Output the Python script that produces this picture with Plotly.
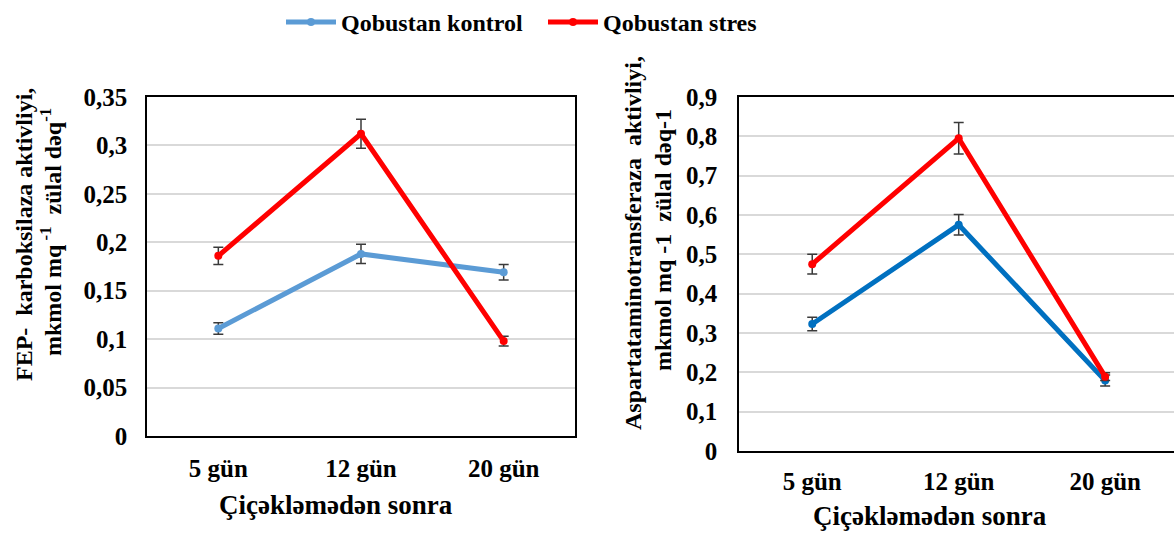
import plotly.graph_objects as go

categories = ["5 gün", "12 gün", "20 gün"]

# Left panel: FEP-karboksilaza
left_kontrol = [0.111, 0.188, 0.169]
left_kontrol_err = [0.006, 0.010, 0.008]
left_stres = [0.186, 0.312, 0.098]
left_stres_err = [0.009, 0.015, 0.005]

# Right panel: Aspartataminotransferaza
right_kontrol = [0.323, 0.575, 0.179]
right_kontrol_err = [0.017, 0.026, 0.014]
right_stres = [0.475, 0.795, 0.189]
right_stres_err = [0.025, 0.040, 0.010]

left_ticks = [0, 0.05, 0.1, 0.15, 0.2, 0.25, 0.3, 0.35]
left_ticktext = ["0", "0,05", "0,1", "0,15", "0,2", "0,25", "0,3", "0,35"]
right_ticks = [0, 0.1, 0.2, 0.3, 0.4, 0.5, 0.6, 0.7, 0.8, 0.9]
right_ticktext = ["0", "0,1", "0,2", "0,3", "0,4", "0,5", "0,6", "0,7", "0,8", "0,9"]

FONT = "'Liberation Serif', 'Times New Roman', 'DejaVu Serif', serif"
W, H = 1174, 533
LIGHT_BLUE = "#5B9BD5"
DARK_BLUE = "#0070C0"
RED = "#FF0000"
ERR = "#3a3a3a"


def err(arr):
    return dict(type="data", array=arr, color=ERR, thickness=1.5, width=5)


fig = go.Figure()
fig.add_trace(go.Scatter(x=categories, y=left_kontrol, name="Qobustan kontrol",
                         mode="lines+markers", line=dict(color=LIGHT_BLUE, width=5),
                         marker=dict(size=8, color=LIGHT_BLUE), error_y=err(left_kontrol_err),
                         xaxis="x", yaxis="y"))
fig.add_trace(go.Scatter(x=categories, y=left_stres, name="Qobustan stres",
                         mode="lines+markers", line=dict(color=RED, width=5),
                         marker=dict(size=8, color=RED), error_y=err(left_stres_err),
                         xaxis="x", yaxis="y"))
fig.add_trace(go.Scatter(x=categories, y=right_kontrol, name="Qobustan kontrol",
                         mode="lines+markers", line=dict(color=DARK_BLUE, width=5),
                         marker=dict(size=8, color=DARK_BLUE), error_y=err(right_kontrol_err),
                         xaxis="x2", yaxis="y2", showlegend=False))
fig.add_trace(go.Scatter(x=categories, y=right_stres, name="Qobustan stres",
                         mode="lines+markers", line=dict(color=RED, width=5),
                         marker=dict(size=8, color=RED), error_y=err(right_stres_err),
                         xaxis="x2", yaxis="y2", showlegend=False))

tickfont = dict(family=FONT, size=25, color="black", weight="bold")

fig.update_layout(
    width=W, height=H,
    margin=dict(l=0, r=0, t=0, b=0, autoexpand=False),
    paper_bgcolor="white", plot_bgcolor="white",
    font=dict(family=FONT, color="black"),
    showlegend=True,
    legend=dict(orientation="h", xref="container", yref="container",
                x=281 / W, xanchor="left", y=1.0, yanchor="top",
                font=dict(family=FONT, size=24, color="black", weight="bold"),
                itemwidth=50, tracegroupgap=0,
                entrywidth=197, entrywidthmode="pixels"),
    xaxis=dict(domain=[147 / W, 575 / W], anchor="y", type="category", range=[-0.5, 2.5],
               showline=True, linecolor="black", linewidth=1.5, mirror=True,
               showgrid=False, ticks="", tickfont=tickfont, ticklabelstandoff=9),
    yaxis=dict(domain=[1 - 436 / H, 1 - 97 / H], anchor="x", range=[0, 0.35],
               tickvals=left_ticks, ticktext=left_ticktext,
               showline=True, linecolor="black", linewidth=1.5, mirror=True,
               showgrid=True, gridcolor="#d9d9d9", gridwidth=1.5, zeroline=False,
               ticks="", tickfont=tickfont, ticklabelstandoff=13),
    xaxis2=dict(domain=[739 / W, 1.0], anchor="y2", type="category", range=[-0.5, 2.47],
                showline=True, linecolor="black", linewidth=1.5, mirror=True,
                showgrid=False, ticks="", tickfont=tickfont, ticklabelstandoff=7),
    yaxis2=dict(domain=[1 - 451 / H, 1 - 97 / H], anchor="x2", range=[0, 0.9],
                tickvals=right_ticks, ticktext=right_ticktext,
                showline=True, linecolor="black", linewidth=1.5, mirror=False,
                showgrid=True, gridcolor="#d9d9d9", gridwidth=1.5, zeroline=False,
                ticks="", tickfont=tickfont, ticklabelstandoff=15),
)

ytitle_font = dict(family=FONT, size=24, color="black", weight="bold")
fig.add_annotation(text="FEP-  karboksilaza aktivliyi,",
                   xref="paper", yref="paper", x=24 / W, y=1 - 235 / H,
                   xanchor="center", yanchor="middle", textangle=-90, showarrow=False,
                   font=ytitle_font)
fig.add_annotation(text="mkmol mq<sup> -1</sup>  zülal dəq<sup>-1</sup>",
                   xref="paper", yref="paper", x=51 / W, y=1 - 232 / H,
                   xanchor="center", yanchor="middle", textangle=-90, showarrow=False,
                   font=ytitle_font)
fig.add_annotation(text="Aspartataminotransferaza  aktivliyi,",
                   xref="paper", yref="paper", x=633 / W, y=1 - 243 / H,
                   xanchor="center", yanchor="middle", textangle=-90, showarrow=False,
                   font=ytitle_font)
fig.add_annotation(text="mkmol mq -1  zülal dəq-1",
                   xref="paper", yref="paper", x=663 / W, y=1 - 240 / H,
                   xanchor="center", yanchor="middle", textangle=-90, showarrow=False,
                   font=ytitle_font)
xt_font = dict(family=FONT, size=27, color="black", weight="bold")
fig.add_annotation(text="Çiçəkləmədən sonra", xref="paper", yref="paper",
                   x=336 / W, y=1 - 505 / H, xanchor="center", yanchor="middle",
                   showarrow=False, font=xt_font)
fig.add_annotation(text="Çiçəkləmədən sonra", xref="paper", yref="paper",
                   x=930 / W, y=1 - 516 / H, xanchor="center", yanchor="middle",
                   showarrow=False, font=xt_font)

fig.write_html("out.html")
